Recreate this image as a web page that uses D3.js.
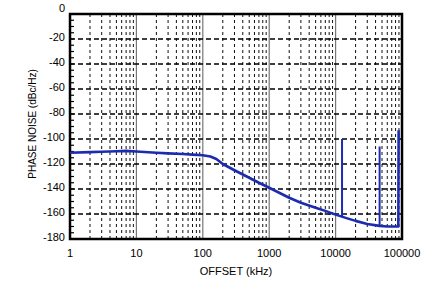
<!DOCTYPE html>
<html>
<head>
<meta charset="utf-8">
<script src="https://cdn.jsdelivr.net/npm/d3@7"></script>
<style>
  body { margin: 0; background: #fff; }
  svg { display: block; font-family: "Liberation Sans", Arial, sans-serif; }
</style>
</head>
<body>
<div id="chart"></div>
<script>
// phase noise curve (offset kHz, dBc/Hz)
const offsets = [1, 2, 3, 5, 7, 10, 20, 30, 50, 70, 100, 130, 160, 200, 300, 500, 700, 1000,
  2000, 3000, 5000, 7000, 10000, 15000, 20000, 30000, 46000, 60000, 80000, 88000, 89000];
const noise = [-111, -110.5, -110.2, -109.8, -109.5, -110, -111, -111.5, -112, -112.5, -113, -114, -116, -120,
  -125, -131, -135, -139, -147, -151, -155, -157.5, -160.5, -163.5, -165.5, -168, -169.5, -170, -170, -170, -93];

// spurs
const spurOffsets = [12500, 46000];
const spurTops = [-100, -106];
const spurBases = [-162, -169.5];

const yTicks = [0, -20, -40, -60, -80, -100, -120, -140, -160, -180];
const xTicks = [1, 10, 100, 1000, 10000, 100000];

const W = 439, H = 283;
const margin = { top: 14, right: 37, bottom: 44, left: 70 };

const svg = d3.select("#chart").append("svg")
  .attr("width", W)
  .attr("height", H);

const x = d3.scaleLog().domain([1, 100000]).range([margin.left, W - margin.right]);
const y = d3.scaleLinear().domain([-180, 0]).range([H - margin.bottom, margin.top]);

// minor vertical grid (2..9 per decade)
const minor = [];
for (let d = 1; d < 100000; d *= 10) {
  for (let k = 2; k <= 9; k++) minor.push(d * k);
}
svg.append("g").selectAll("line").data(minor).join("line")
  .attr("x1", d => x(d)).attr("x2", d => x(d))
  .attr("y1", y(0)).attr("y2", y(-180))
  .attr("stroke", "#111").attr("stroke-width", 1)
  .attr("stroke-dasharray", "3,3");

// decade lines
svg.append("g").selectAll("line").data(xTicks.slice(1, -1)).join("line")
  .attr("x1", d => x(d)).attr("x2", d => x(d))
  .attr("y1", y(0)).attr("y2", y(-180))
  .attr("stroke", "#777").attr("stroke-width", 1.2);

// horizontal grid
svg.append("g").selectAll("line").data(yTicks.slice(1, -1)).join("line")
  .attr("x1", x(1)).attr("x2", x(100000))
  .attr("y1", d => y(d)).attr("y2", d => y(d))
  .attr("stroke", "#000").attr("stroke-width", 1.6)
  .attr("stroke-dasharray", "5,3");

// minor ticks on left side every 5 dB
svg.append("g").selectAll("line").data(d3.range(-175, 0, 5)).join("line")
  .attr("x1", x(1)).attr("x2", x(1) + 4)
  .attr("y1", d => y(d)).attr("y2", d => y(d))
  .attr("stroke", "#000").attr("stroke-width", 1.2);

// frame
svg.append("rect")
  .attr("x", x(1)).attr("y", y(0))
  .attr("width", x(100000) - x(1)).attr("height", y(-180) - y(0))
  .attr("fill", "none").attr("stroke", "#000").attr("stroke-width", 2.5);

// curve
const line = d3.line().x((d, i) => x(offsets[i])).y(d => y(d));
svg.append("path").datum(noise)
  .attr("fill", "none").attr("stroke", "#1c2cb0")
  .attr("stroke-width", 2.6).attr("stroke-linejoin", "round")
  .attr("d", line);

svg.append("g").selectAll("line").data(spurOffsets).join("line")
  .attr("x1", d => x(d)).attr("x2", d => x(d))
  .attr("y1", (d, i) => y(spurBases[i])).attr("y2", (d, i) => y(spurTops[i]))
  .attr("stroke", "#1c2cb0").attr("stroke-width", 2);

// tick labels
svg.append("g").selectAll("text").data(yTicks).join("text")
  .attr("x", margin.left - 5).attr("y", d => y(d) + (d === 0 ? -2 : 2))
  .attr("text-anchor", "end").attr("font-size", 11)
  .text(d => d);

svg.append("g").selectAll("text").data(xTicks).join("text")
  .attr("x", d => x(d)).attr("y", 257)
  .attr("text-anchor", "middle").attr("font-size", 11)
  .text(d => d);

// axis titles
svg.append("text")
  .attr("x", 236).attr("y", 275)
  .attr("text-anchor", "middle").attr("font-size", 11)
  .text("OFFSET (kHz)");

svg.append("text")
  .attr("transform", "translate(36,124) rotate(-90)")
  .attr("text-anchor", "middle").attr("font-size", 10)
  .text("PHASE NOISE (dBc/Hz)");
</script>
</body>
</html>
